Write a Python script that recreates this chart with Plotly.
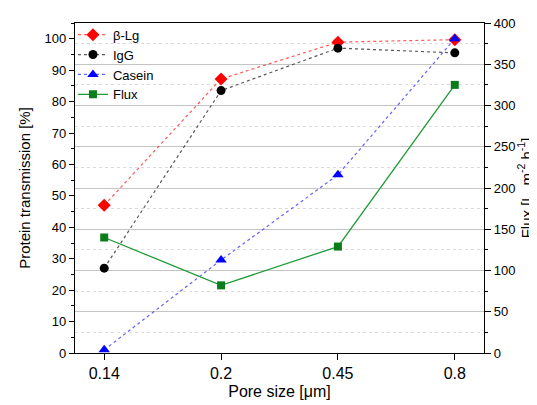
import plotly.graph_objects as go

pore_sizes = ["0.14", "0.2", "0.45", "0.8"]
beta_lg = [47.0, 87.2, 98.9, 99.7]
igg = [27.0, 83.5, 97.0, 95.5]
casein = [1.0, 29.6, 56.7, 100.0]
flux = [140, 82, 129, 325]

FONT = "Liberation Sans, Arial, sans-serif"

fig = go.Figure()
fig.add_trace(go.Scatter(
    x=pore_sizes, y=beta_lg, name="β-Lg", mode="lines+markers",
    line=dict(color="rgba(255,60,60,0.85)", width=1.2, dash="dot"),
    marker=dict(symbol="diamond", size=10, color="#ff0000"),
))
fig.add_trace(go.Scatter(
    x=pore_sizes, y=igg, name="IgG", mode="lines+markers",
    line=dict(color="rgba(60,60,60,0.85)", width=1.2, dash="dot"),
    marker=dict(symbol="circle", size=9, color="#000000"),
))
fig.add_trace(go.Scatter(
    x=pore_sizes, y=casein, name="Casein", mode="lines+markers",
    line=dict(color="rgba(70,70,255,0.85)", width=1.2, dash="dot"),
    marker=dict(symbol="triangle-up", size=10, color="#0000ff"),
))
fig.add_trace(go.Scatter(
    x=pore_sizes, y=flux, name="Flux", mode="lines+markers", yaxis="y2",
    line=dict(color="#1f9a36", width=1.3),
    marker=dict(symbol="square", size=8, color="#0a7d1a"),
))

fig.update_layout(
    width=529, height=397,
    margin=dict(l=67, r=53, t=15, b=52, autoexpand=False),
    paper_bgcolor="white", plot_bgcolor="white",
    font=dict(family=FONT, size=13, color="black"),
    showlegend=True,
    legend=dict(x=-0.005, y=1.01, xanchor="left", yanchor="top",
                bgcolor="rgba(255,255,255,0)", borderwidth=0,
                font=dict(size=13), tracegroupgap=0, itemwidth=30),
    xaxis=dict(
        type="category", range=[-0.25, 3.25], automargin=False,
        showline=True, linecolor="black", linewidth=1.2, mirror=True,
        ticks="outside", ticklen=6, tickwidth=1.2, tickcolor="black",
        showgrid=False, zeroline=False,
        title=dict(text="Pore size [μm]", font=dict(size=16), standoff=4),
        tickfont=dict(size=16),
    ),
    yaxis=dict(
        range=[0, 105], dtick=10, tick0=0, automargin=False,
        showline=True, linecolor="black", linewidth=1.2,
        ticks="outside", ticklen=5, tickwidth=1.2, tickcolor="black",
        minor=dict(dtick=5, ticks="outside", ticklen=3, tickcolor="black", showgrid=False),
        showgrid=False, zeroline=False,
        title=dict(text="Protein transmission [%]", font=dict(size=15), standoff=10),
        tickfont=dict(size=13),
    ),
    yaxis2=dict(
        range=[0, 400], dtick=50, tick0=0, overlaying="y", side="right", automargin=False,
        showline=True, linecolor="black", linewidth=1.2,
        ticks="outside", ticklen=6, tickwidth=1.2, tickcolor="black",
        showgrid=True, gridcolor="#c4c4c4", gridwidth=1,
        minor=dict(dtick=25, ticks="outside", ticklen=3, tickcolor="black",
                   showgrid=True, gridcolor="#dcdcdc", griddash="dot", gridwidth=1),
        zeroline=False,
        title=dict(text="Flux [L  m<sup>-2</sup> h<sup>-1</sup>]", font=dict(size=15), standoff=3),
        tickfont=dict(size=13),
    ),
)

fig.write_html("out.html")
